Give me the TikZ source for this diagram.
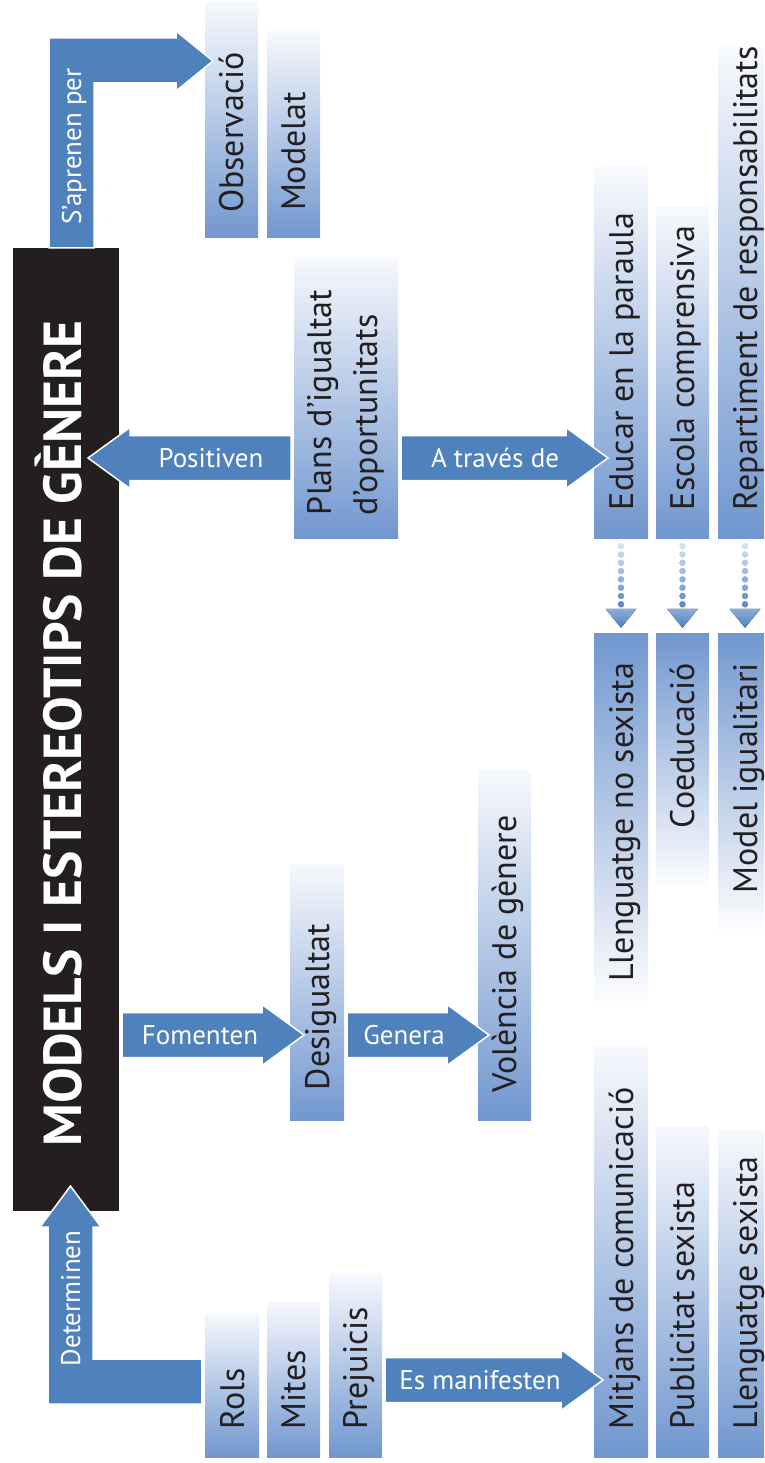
\documentclass[tikz,border=0pt]{standalone}
\usepackage{fontspec}
\setmainfont{PT Sans}
\usetikzlibrary{calc}

\definecolor{arrowblue}{RGB}{79,129,189}
\definecolor{boxblue}{RGB}{113,151,207}
\definecolor{boxlight}{RGB}{247,249,253}
\definecolor{chalkboard}{RGB}{35,31,32}
\definecolor{dotblue}{RGB}{92,132,198}

\tikzset{
  gbox/.style={rectangle, inner sep=0pt, top color=boxlight, bottom color=boxblue},
  rbox/.style={rectangle, inner sep=0pt, top color=boxblue, bottom color=white},
  btext/.style={rotate=90, inner sep=0pt, text=chalkboard, font=\fontsize{34}{46}\selectfont, text height=24pt, text depth=0pt},
  alabel/.style={inner sep=0pt, text=white, font=\fontsize{27}{30}\selectfont, text height=19pt, text depth=0pt},
  arrowfill/.style={fill=arrowblue, draw=white, line width=1.5pt, line join=miter},
}

% block arrow from tail #1 to tip #2
\newcommand{\blockarrow}[2]{%
  \coordinate (hb) at ($(#2)!42pt!(#1)$);
  \filldraw[arrowfill] ($(#1)!22.5pt!90:(#2)$) -- ($(hb)!22.5pt!-90:(#1)$) -- ($(hb)!30.5pt!-90:(#1)$)
    -- (#2) -- ($(hb)!30.5pt!90:(#1)$) -- ($(hb)!22.5pt!90:(#1)$) -- ($(#1)!22.5pt!-90:(#2)$) -- cycle;}

\begin{document}
\begin{tikzpicture}[x=1pt, y=-1pt]
    \useasboundingbox (0,0) rectangle (764,1463);
    \clip (0,0) rectangle (764,1463);

    % Title block
    \node[fill=chalkboard, inner sep=0pt, minimum width=106pt, minimum height=963pt] (title) at (66,729.5) {};

    % Boxes
    \node[gbox, minimum width=53pt, minimum height=235pt] (obs) at (231.5,120.5) {};
    \node[gbox, minimum width=53pt, minimum height=206pt] (modelat) at (293.5,135) {};
    \node[gbox, minimum width=104pt, minimum height=281pt] (plans) at (346,397.5) {};
    \node[gbox, minimum width=54pt, minimum height=370pt] (educar) at (621,353) {};
    \node[gbox, minimum width=53pt, minimum height=331pt] (escola) at (682.5,372.5) {};
    \node[gbox, minimum width=54pt, minimum height=490pt] (repart) at (745,293) {};
    \node[rbox, minimum width=54pt, minimum height=377pt] (llnosex) at (621,821.5) {};
    \node[rbox, minimum width=53pt, minimum height=257pt] (coed) at (682.5,761.5) {};
    \node[rbox, minimum width=54pt, minimum height=302pt] (modigual) at (745,784) {};
    \node[gbox, minimum width=54pt, minimum height=256pt] (desig) at (317,992) {};
    \node[gbox, minimum width=53pt, minimum height=350pt] (volencia) at (504.5,945) {};
    \node[gbox, minimum width=54pt, minimum height=412pt] (mitjans) at (621,1251) {};
    \node[gbox, minimum width=53pt, minimum height=332pt] (publi) at (682.5,1291) {};
    \node[gbox, minimum width=54pt, minimum height=327pt] (llsex) at (745,1293.5) {};
    \node[gbox, minimum width=54pt, minimum height=144pt] (rols) at (232,1385) {};
    \node[gbox, minimum width=53pt, minimum height=156pt] (mites) at (293.5,1379) {};
    \node[gbox, minimum width=53pt, minimum height=184pt] (prej) at (355.5,1365) {};

    % Bent arrows
    \filldraw[arrowfill] ($(title.north)+(-17,0)$) -- (49,38) -- (176,38) -- (176,31) -- (213,61) -- (176,91)
        -- (176,83) -- (94,83) -- ($(title.north)+(28,0)$) -- cycle;
    \filldraw[arrowfill] ($(rols.west)+(-3,19)$) -- (48,1404) -- (48,1227) -- (40,1227) -- (70.5,1186) -- (101,1227)
        -- (93,1227) -- (93,1359) -- ($(rols.west)+(-3,-26)$) -- cycle;

    % Straight arrows
    \coordinate (pos1) at (291,458);  \coordinate (pos2) at (88,458);
    \coordinate (atr1) at (401,458);  \coordinate (atr2) at (608,458);
    \coordinate (fom1) at (122,1035); \coordinate (fom2) at (304,1035);
    \coordinate (gen1) at (347,1035); \coordinate (gen2) at (489,1035);
    \coordinate (esm1) at (385,1380); \coordinate (esm2) at (603,1380);
    \blockarrow{pos1}{pos2}
    \blockarrow{atr1}{atr2}
    \blockarrow{fom1}{fom2}
    \blockarrow{gen1}{gen2}
    \blockarrow{esm1}{esm2}

    % Dotted links
    \foreach \src/\dst in {educar/llnosex, escola/coed, repart/modigual} {
        \foreach \i in {0,...,7} {
            \pgfmathtruncatemacro\dens{25+10*\i}
            \fill[dotblue!\dens!white] ($(\src.south)+(0,8+8.3*\i)$) circle (3.3pt);
        }
        \fill[top color=boxblue!80, bottom color=arrowblue] ($(\dst.north)+(-15.5,-24)$) -- ($(\dst.north)+(15.5,-24)$)
            -- ($(\dst.north)+(0,-5)$) -- cycle;
    }

    % Title text
    \node[rotate=90, inner sep=0pt, text=white, font=\fontsize{53.5}{54}\selectfont\bfseries,
        text height=37.5pt, text depth=0pt] (titletxt) at (62.5,733.5) {MODELS I ESTEREOTIPS DE GÈNERE};

    % Box texts
    \node[btext, anchor=west] (obstxt) at ([yshift=25pt]obs.south) {Observació};
    \node[btext, anchor=west] (modtxt) at ([yshift=27pt]modelat.south) {Modelat};
    \node[btext, anchor=west, align=left, text height=, text depth=] (planstxt) at ([yshift=23pt]plans.south) {Plans d’igualtat\\d’oportunitats};
    \node[btext, anchor=west] (edutxt) at ([yshift=28pt]educar.south) {Educar en la paraula};
    \node[btext, anchor=west] (esctxt) at ([yshift=28pt]escola.south) {Escola comprensiva};
    \node[btext, anchor=west] (reptxt) at ([yshift=28pt]repart.south) {Repartiment de responsabilitats};
    \node[btext, anchor=east] (llntxt) at ([yshift=-30pt]llnosex.north) {Llenguatge no sexista};
    \node[btext, anchor=east] (coetxt) at ([yshift=-30pt]coed.north) {Coeducació};
    \node[btext, anchor=east] (migtxt) at ([yshift=-30pt]modigual.north) {Model igualitari};
    \node[btext, anchor=west] (destxt) at ([yshift=30pt]desig.south) {Desigualtat};
    \node[btext, anchor=west] (voltxt) at ([yshift=28pt]volencia.south) {Volència de gènere};
    \node[btext, anchor=west] (mittxt) at ([yshift=28pt]mitjans.south) {Mitjans de comunicació};
    \node[btext, anchor=west] (pubtxt) at ([yshift=28pt]publi.south) {Publicitat sexista};
    \node[btext, anchor=west] (lsxtxt) at ([yshift=28pt]llsex.south) {Llenguatge sexista};
    \node[btext, anchor=west] (roltxt) at ([yshift=28pt]rols.south) {Rols};
    \node[btext, anchor=west] (mittxt2) at ([yshift=28pt]mites.south) {Mites};
    \node[btext, anchor=west] (pretxt) at ([yshift=28pt]prej.south) {Prejuicis};

    % Arrow labels
    \node[alabel, rotate=90] (saprenen) at (71.5,146.5) {S’aprenen per};
    \node[alabel, rotate=90] (determinen) at (70.5,1298.5) {Determinen};
    \node[alabel] (positiven) at (211,458) {Positiven};
    \node[alabel] (atraves) at (495,458) {A través de};
    \node[alabel] (fomenten) at (200,1035) {Fomenten};
    \node[alabel] (genera) at (404,1035) {Genera};
    \node[alabel] (esmanif) at (480,1380) {Es manifesten};
\end{tikzpicture}
\end{document}
